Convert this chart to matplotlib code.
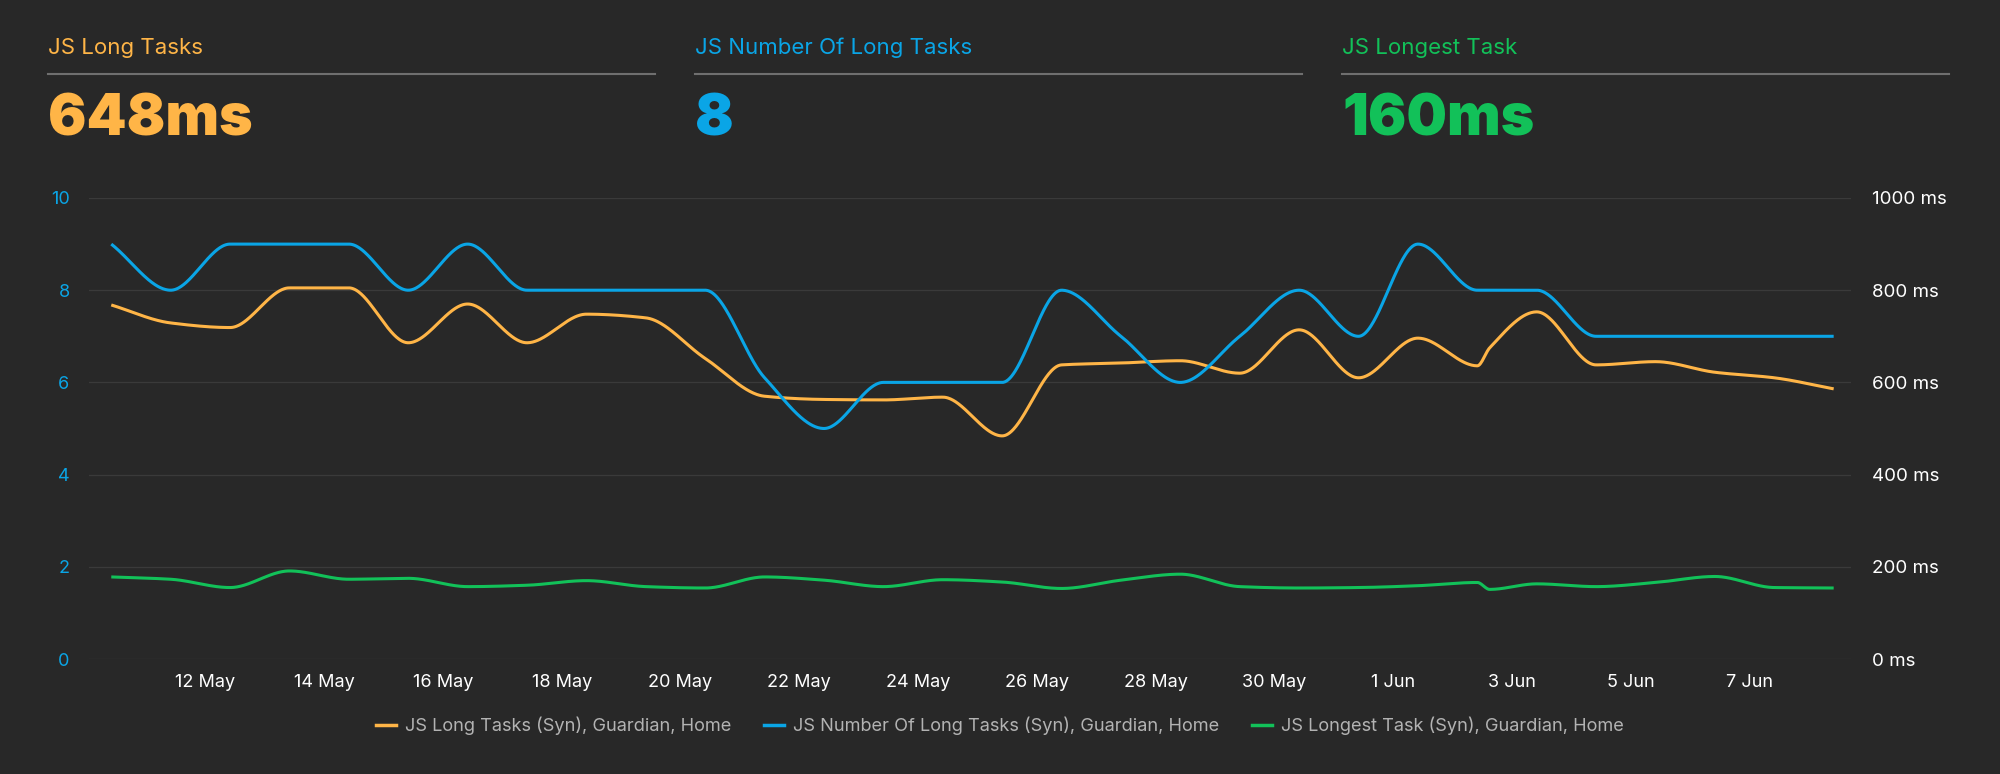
import numpy as np
import pandas as pd
import matplotlib
matplotlib.use("Agg")
import matplotlib.pyplot as plt
from matplotlib.lines import Line2D

# ===== Data =====
dates = pd.to_datetime([
    "2023-05-10 10:00", "2023-05-11 10:00", "2023-05-12 10:00", "2023-05-13 10:00",
    "2023-05-14 10:00", "2023-05-15 10:00", "2023-05-16 10:00", "2023-05-17 10:00",
    "2023-05-18 10:00", "2023-05-19 10:00", "2023-05-20 10:00", "2023-05-21 10:00",
    "2023-05-22 10:00", "2023-05-23 10:00", "2023-05-24 10:00", "2023-05-25 10:00",
    "2023-05-26 10:00", "2023-05-27 10:00", "2023-05-28 10:00", "2023-05-29 10:00",
    "2023-05-30 10:00", "2023-05-31 10:00", "2023-06-01 10:00", "2023-06-02 10:00",
    "2023-06-02 15:00", "2023-06-03 10:00", "2023-06-04 10:00", "2023-06-05 10:00",
    "2023-06-06 10:00", "2023-06-07 10:00", "2023-06-08 10:00",
])
long_tasks_ms = [768, 729, 719, 805, 805, 686, 770, 686, 748, 740, 652, 570,
                 563, 562, 568, 484, 638, 642, 647, 620, 714, 610, 696, 636,
                 675, 753, 638, 645, 622, 610, 586]
num_long_tasks = [9, 8, 9, 9, 9, 8, 9, 8, 8, 8, 8, 6.1,
                  5, 6, 6, 6, 8, 7, 6, 7, 8, 7, 9, 8,
                  8, 8, 7, 7, 7, 7, 7]
longest_task_ms = [178, 173, 155, 191, 173, 175, 157, 160, 170, 157, 154, 178,
                   171, 157, 172, 167, 153, 171, 184, 157, 154, 155, 159, 166,
                   151, 163, 157, 166, 179, 155, 154]

tick_dates = pd.date_range("2023-05-12", "2023-06-07", freq="2D")
tick_labels = [f"{d.day} {d.strftime('%b')}" for d in tick_dates]
left_ticks = [0, 2, 4, 6, 8, 10]
right_ticks = [0, 200, 400, 600, 800, 1000]

headers = ["JS Long Tasks", "JS Number Of Long Tasks", "JS Longest Task"]
header_values = ["648ms", "8", "160ms"]
legend_labels = ["JS Long Tasks (Syn), Guardian, Home",
                 "JS Number Of Long Tasks (Syn), Guardian, Home",
                 "JS Longest Task (Syn), Guardian, Home"]

ORANGE = "#FFB547"
BLUE = "#0AA5E6"
GREEN = "#12C159"
BG = "#282828"
FONT = ["Inter", "DejaVu Sans"]

W, H = 2000, 774


# ===== Monotone cubic smoothing (like the chart's spline) =====
def monotone(x, y, n=2000):
    x = np.asarray(x, float)
    y = np.asarray(y, float)
    h = np.diff(x)
    d = np.diff(y) / h
    m = np.zeros_like(y)
    m[0], m[-1] = d[0], d[-1]
    for i in range(1, len(y) - 1):
        if d[i - 1] * d[i] <= 0:
            m[i] = 0.0
        else:
            w1 = 2 * h[i] + h[i - 1]
            w2 = h[i] + 2 * h[i - 1]
            m[i] = (w1 + w2) / (w1 / d[i - 1] + w2 / d[i])
    xs = np.linspace(x[0], x[-1], n)
    k = np.clip(np.searchsorted(x, xs, side="right") - 1, 0, len(x) - 2)
    t = (xs - x[k]) / h[k]
    h00 = 2 * t**3 - 3 * t**2 + 1
    h10 = t**3 - 2 * t**2 + t
    h01 = -2 * t**3 + 3 * t**2
    h11 = t**3 - t**2
    ys = h00 * y[k] + h10 * h[k] * m[k] + h01 * y[k + 1] + h11 * h[k] * m[k + 1]
    return xs, ys


plt.rcParams["font.family"] = FONT
fig = plt.figure(figsize=(W / 100, H / 100), dpi=100, facecolor=BG)

# ===== Header cards =====
header_colors = [ORANGE, BLUE, GREEN]
header_x = [48, 695, 1342]
for i in range(3):
    x0 = header_x[i]
    fig.text(x0 / W, 1 - 48 / H, headers[i], color=header_colors[i],
             fontsize=16, va="center", ha="left")
    fig.add_artist(Line2D([x0 / W, (x0 + 607) / W], [1 - 74 / H, 1 - 74 / H],
                          transform=fig.transFigure, color="#6f6f6f", lw=1.5))
    fig.text(x0 / W, 1 - 135 / H, header_values[i], color=header_colors[i],
             fontsize=41, fontweight="black", va="baseline", ha="left")

# ===== Main chart =====
ax = fig.add_axes([89 / W, (H - 659) / H, (1851 - 89) / W, (659 - 198) / H])
ax2 = ax.twinx()
ax.set_zorder(ax2.get_zorder() + 1)
ax.patch.set_visible(False)

xnum = matplotlib.dates.date2num(dates)
xs, ys = monotone(xnum, long_tasks_ms)
ax2.plot(xs, ys, color=ORANGE, lw=2.2, solid_capstyle="butt")
xs, ys = monotone(xnum, longest_task_ms)
ax2.plot(xs, ys, color=GREEN, lw=2.2, solid_capstyle="butt")
xs, ys = monotone(xnum, num_long_tasks)
ax.plot(xs, ys, color=BLUE, lw=2.2, solid_capstyle="butt")

ax.set_ylim(0, 10)
ax2.set_ylim(0, 1000)
ax.set_xlim(dates[0] - pd.Timedelta(hours=9), dates[-1] + pd.Timedelta(hours=7))

ax.set_yticks(left_ticks)
ax.set_yticklabels([str(v) for v in left_ticks])
ax2.set_yticks(right_ticks)
ax2.set_yticklabels([f"{v} ms" for v in right_ticks])
ax.set_xticks(tick_dates)
ax.set_xticklabels(tick_labels)

for v in right_ticks:
    ax2.axhline(v, color="#3a3a3a", lw=0.9, zorder=0)

for a in (ax, ax2):
    for s in a.spines.values():
        s.set_visible(False)
ax.tick_params(axis="y", length=0, pad=14, labelsize=13, labelcolor=BLUE)
ax2.tick_params(axis="y", length=0, pad=15, labelsize=13.5, labelcolor="white")
ax.tick_params(axis="x", length=0, pad=11, labelsize=13, labelcolor="white")

# ===== Legend =====
handles = [Line2D([], [], color=c, lw=2.5) for c in (ORANGE, BLUE, GREEN)]
fig.legend(handles, legend_labels, loc="center", bbox_to_anchor=(0.5, 1 - 726 / H),
           ncol=3, frameon=False, handlelength=1.1, handletextpad=0.5,
           columnspacing=1.8, fontsize=13.1, labelcolor="#b3b3b3")

fig.savefig("out.png", dpi=100, facecolor=BG)
